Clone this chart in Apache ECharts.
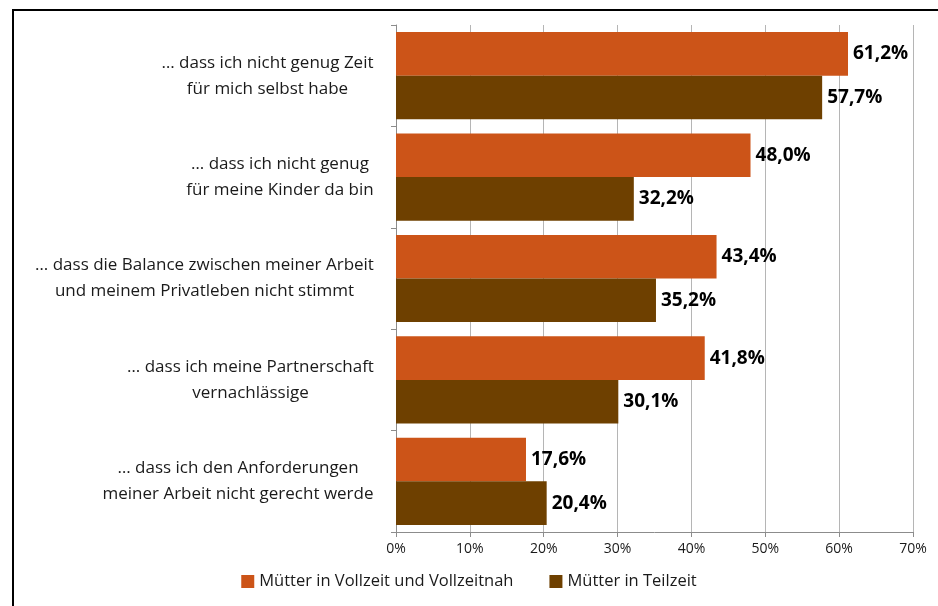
<!DOCTYPE html>
<html>
<head>
    <meta charset="utf-8">
    <script src="https://cdn.jsdelivr.net/npm/echarts@6/dist/echarts.min.js"></script>
    <title>Chart</title>
    <style>
        html, body { margin: 0; padding: 0; background: #fff; }
        #main { width: 938px; height: 606px; }
    </style>
</head>
<body>
<div id="main"></div>
<script type="text/javascript">
    var categories = [
        '… dass ich nicht genug Zeit\nfür mich selbst habe',
        '… dass ich nicht genug\nfür meine Kinder da bin',
        '… dass die Balance zwischen meiner Arbeit\nund meinem Privatleben nicht stimmt',
        '… dass ich meine Partnerschaft\nvernachlässige',
        '… dass ich den Anforderungen\nmeiner Arbeit nicht gerecht werde'
    ];
    var vollzeit = [61.2, 48.0, 43.4, 41.8, 17.6];
    var teilzeit = [57.7, 32.2, 35.2, 30.1, 20.4];
    var seriesNames = ['Mütter in Vollzeit und Vollzeitnah', 'Mütter in Teilzeit'];

    var FONT = '"Open Sans", Lato, sans-serif';

    // each label block is right aligned, its lines centred inside it
    var ctx = document.createElement('canvas').getContext('2d');
    ctx.font = '17px ' + FONT;
    var rich = {};
    categories.forEach(function (c, i) {
        var w = 0;
        c.split('\n').forEach(function (l) { w = Math.max(w, ctx.measureText(l).width); });
        rich['c' + i] = { width: Math.ceil(w) + 2, align: 'center', fontSize: 17, lineHeight: 26, color: '#1a1a1a', fontFamily: FONT };
    });

    function pct(p) { return p.value.toFixed(1).replace('.', ',') + '%'; }

    var myChart = echarts.init(document.getElementById('main'));
    var option = {
        backgroundColor: '#fff',
        animation: false,
        color: ['#CC5418', '#6E4000'],
        textStyle: { fontFamily: FONT },
        graphic: [{
            type: 'rect',
            shape: { x: 13, y: 10, width: 1000, height: 1000 },
            style: { fill: 'none', stroke: '#000', lineWidth: 2 }
        }],
        grid: { left: 396, right: 25, top: 25, bottom: 74 },
        legend: {
            bottom: 11,
            left: 'center',
            itemWidth: 13,
            itemHeight: 13,
            itemGap: 36,
            icon: 'rect',
            textStyle: { fontSize: 16.5, color: '#1a1a1a', fontFamily: FONT },
            data: seriesNames
        },
        xAxis: {
            type: 'value',
            min: 0,
            max: 70,
            interval: 10,
            axisLine: { show: true, lineStyle: { color: '#8c8c8c' } },
            axisTick: { show: true, length: 5, lineStyle: { color: '#8c8c8c' } },
            splitLine: { show: true, lineStyle: { color: '#b5b5b5' } },
            axisLabel: { formatter: '{value}%', fontSize: 14, color: '#1a1a1a', margin: 10 }
        },
        yAxis: {
            type: 'category',
            inverse: true,
            data: categories,
            axisLine: { show: true, lineStyle: { color: '#8c8c8c' } },
            axisTick: { show: true, length: 5, lineStyle: { color: '#8c8c8c' } },
            axisLabel: {
                margin: 21,
                formatter: function (val, idx) {
                    return val.split('\n').map(function (l) { return '{c' + idx + '|' + l + '}'; }).join('\n');
                },
                rich: rich
            }
        },
        series: [{
            name: seriesNames[0],
            type: 'bar',
            data: vollzeit,
            barGap: '0%',
            barCategoryGap: '14%',
            label: {
                show: true, position: 'right', distance: 5,
                fontSize: 19, fontWeight: 'bold', color: '#000', fontFamily: FONT,
                formatter: pct
            }
        }, {
            name: seriesNames[1],
            type: 'bar',
            data: teilzeit,
            barGap: '0%',
            barCategoryGap: '14%',
            label: {
                show: true, position: 'right', distance: 5,
                fontSize: 19, fontWeight: 'bold', color: '#000', fontFamily: FONT,
                formatter: pct
            }
        }]
    };
    myChart.setOption(option);
</script>
</body>
</html>
